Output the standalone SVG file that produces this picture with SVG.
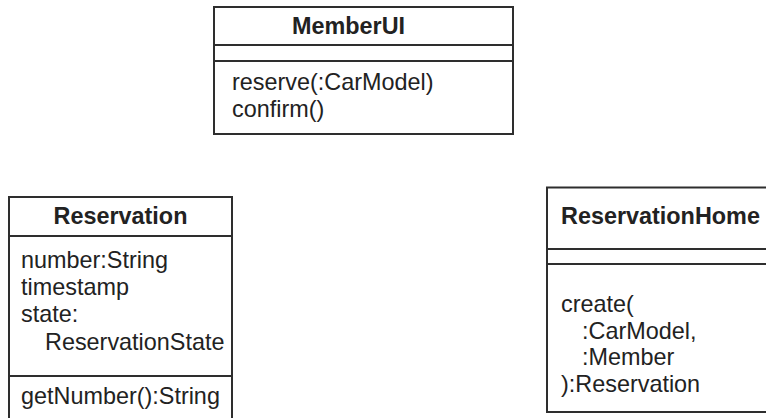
<svg xmlns="http://www.w3.org/2000/svg" width="766" height="418" viewBox="0 0 766 418">
<style>
.box{fill:#fff;stroke:#2e2e2e;stroke-width:2}
.div{stroke:#2e2e2e;stroke-width:2}
.t{font-family:"Liberation Sans",Arial,sans-serif;font-size:23.4px;fill:#222}
.b{font-weight:bold}
</style>
<rect width="766" height="418" fill="#fff"/>
<g id="MemberUI">
<rect class="box" x="214" y="7" width="299" height="127"/>
<line class="div" x1="214" y1="45" x2="513" y2="45"/>
<line class="div" x1="214" y1="61" x2="513" y2="61"/>
<text class="t b" x="348.5" y="34" text-anchor="middle">MemberUI</text>
<text class="t" x="232" y="90">reserve(:CarModel)</text>
<text class="t" x="232" y="117">confirm()</text>
</g>
<g id="Reservation">
<rect class="box" x="9" y="197" width="223" height="240"/>
<line class="div" x1="9" y1="236" x2="232" y2="236"/>
<line class="div" x1="9" y1="376" x2="232" y2="376"/>
<text class="t b" x="120.5" y="224" text-anchor="middle">Reservation</text>
<text class="t" x="21" y="268">number:String</text>
<text class="t" x="21" y="295">timestamp</text>
<text class="t" x="21" y="322">state:</text>
<text class="t" x="45" y="350">ReservationState</text>
<text class="t" x="21" y="404">getNumber():String</text>
</g>
<g id="ReservationHome">
<rect class="box" x="547" y="187.5" width="240" height="224.5"/>
<line class="div" x1="547" y1="249" x2="787" y2="249"/>
<line class="div" x1="547" y1="264" x2="787" y2="264"/>
<text class="t b" x="561" y="224">ReservationHome</text>
<text class="t" x="561" y="312">create(</text>
<text class="t" x="582" y="338.5">:CarModel,</text>
<text class="t" x="582" y="365">:Member</text>
<text class="t" x="561" y="391.5">):Reservation</text>
</g>
<g id="connectors"></g>
</svg>
